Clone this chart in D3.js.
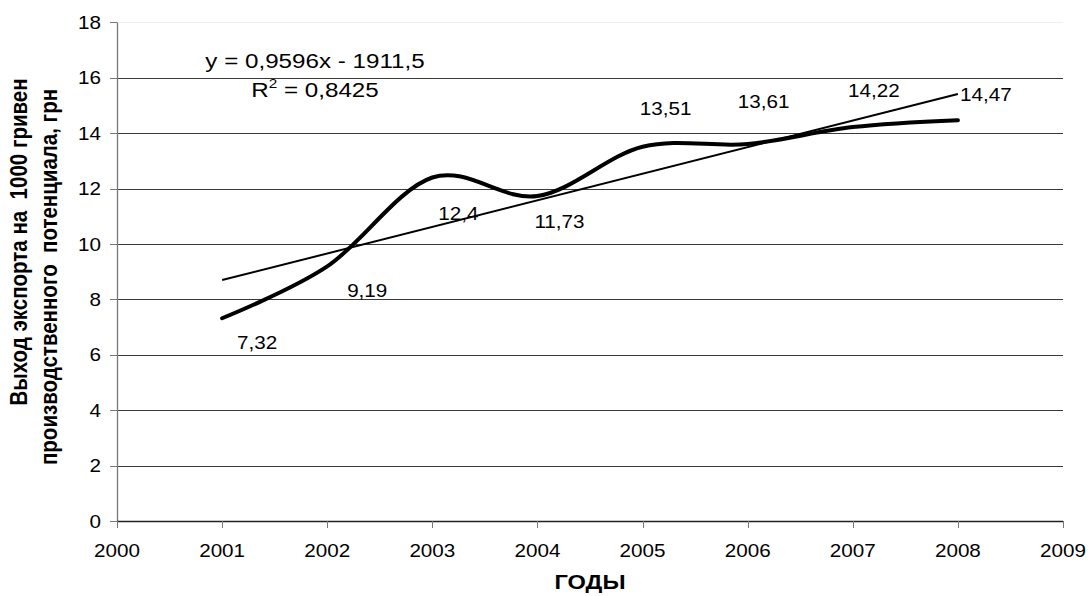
<!DOCTYPE html>
<html><head><meta charset="utf-8">
<script src="https://cdn.jsdelivr.net/npm/d3@7"></script>
<style>
body{margin:0;background:#fff;}
text{font-family:Arial,"Liberation Sans",sans-serif;fill:#000;white-space:pre;}
</style></head>
<body>
<svg id="c" width="1089" height="596"></svg>
<script>
const years = [2001,2002,2003,2004,2005,2006,2007,2008];
const values = [7.32,9.19,12.4,11.73,13.51,13.61,14.22,14.47];
const labels = ["7,32","9,19","12,4","11,73","13,51","13,61","14,22","14,47"];
const xTicks = [2000,2001,2002,2003,2004,2005,2006,2007,2008,2009];
const yTicks = [0,2,4,6,8,10,12,14,16,18];
const yTitle = ["Выход экспорта на  1000 гривен","производственного  потенциала, грн"];
const xTitle = "ГОДЫ";
// label offsets from each point (px)
const labelDx = [35,40,26,22,23,16,21,28];
const labelDy = [31,31,42,32,-32,-36,-30,-19];

const SX = 1.18; // horizontal stretch of the original picture
const svg = d3.select("#c");
const x = d3.scaleLinear().domain([2000,2009]).range([117,1063]);
const y = d3.scaleLinear().domain([0,18]).range([521,22.4]);

function stext(g, tx, ty, str, size, anchor, weight){
  return g.append("text")
    .attr("transform",`translate(${tx},${ty}) scale(${SX},1)`)
    .attr("text-anchor",anchor||"middle")
    .style("font-size",size+"px")
    .style("font-weight",weight||"normal")
    .text(str);
}

// gridlines
svg.append("g").selectAll("line").data(yTicks.filter(d=>d>0)).join("line")
  .attr("x1",x(2000)).attr("x2",x(2009))
  .attr("y1",d=>Math.round(y(d))+0.5).attr("y2",d=>Math.round(y(d))+0.5)
  .attr("stroke",d=>d===18?"#eeeeee":"#3a3a3a").attr("stroke-width",1);

// y axis
const ya = svg.append("g");
ya.append("line").attr("x1",117.5).attr("x2",117.5).attr("y1",y(18)).attr("y2",y(0))
  .attr("stroke","#777").attr("stroke-width",1.3);
ya.selectAll("line.t").data(yTicks).join("line").attr("class","t")
  .attr("x1",110).attr("x2",117).attr("y1",d=>Math.round(y(d))+0.5).attr("y2",d=>Math.round(y(d))+0.5)
  .attr("stroke","#777");
yTicks.forEach(d=>stext(ya,101,y(d)+6.5,String(d),17.5,"end"));

// x axis
const xa = svg.append("g");
xa.append("line").attr("x1",x(2000)).attr("x2",x(2009)).attr("y1",521.5).attr("y2",521.5)
  .attr("stroke","#222").attr("stroke-width",1.3);
xa.selectAll("line.t").data(xTicks).join("line").attr("class","t")
  .attr("x1",d=>Math.round(x(d))+0.5).attr("x2",d=>Math.round(x(d))+0.5).attr("y1",521).attr("y2",528)
  .attr("stroke","#777");
xTicks.forEach(d=>stext(xa,x(d),557,String(d),17.5,"middle"));

// trend line (least squares)
const n = years.length;
const mx = d3.mean(years), my = d3.mean(values);
const slope = d3.sum(years.map((v,i)=>(v-mx)*(values[i]-my)))/d3.sum(years.map(v=>(v-mx)*(v-mx)));
const icpt = my - slope*mx;
const x0 = years[0], x1 = years[n-1];
svg.append("line").attr("x1",x(x0)).attr("y1",y(slope*x0+icpt))
  .attr("x2",x(x1)).attr("y2",y(slope*x1+icpt))
  .attr("stroke","#000").attr("stroke-width",2);

// smoothed series
const line = d3.line().x((d,i)=>x(years[i])).y(d=>y(d)).curve(d3.curveCardinal.tension(0));
svg.append("path").datum(values).attr("d",line)
  .attr("fill","none").attr("stroke","#000").attr("stroke-width",4).attr("stroke-linecap","round");

// data labels
values.forEach((v,i)=>stext(svg,x(years[i])+labelDx[i],y(v)+labelDy[i],labels[i],17.5,"middle"));

// equation
stext(svg,315,68,"y = 0,9596x - 1911,5",20.5,"middle");
const r = svg.append("text").attr("transform",`translate(315,97) scale(${SX},1)`)
  .attr("text-anchor","middle").style("font-size","20.5px");
r.append("tspan").text("R");
r.append("tspan").attr("dy",-9).style("font-size","13px").text("2");
r.append("tspan").attr("dy",9).text(" = 0,8425");

// axis titles
stext(svg,590,589,xTitle,20,"middle","bold");
svg.append("text").attr("transform","translate(27,242) rotate(-90) scale(1,1.15)")
  .attr("text-anchor","middle").style("font-size","20.5px").style("font-weight","bold").text(yTitle[0]);
svg.append("text").attr("transform","translate(57,277) rotate(-90) scale(1,1.15)")
  .attr("text-anchor","middle").style("font-size","20.5px").style("font-weight","bold").text(yTitle[1]);
</script>
</body></html>
